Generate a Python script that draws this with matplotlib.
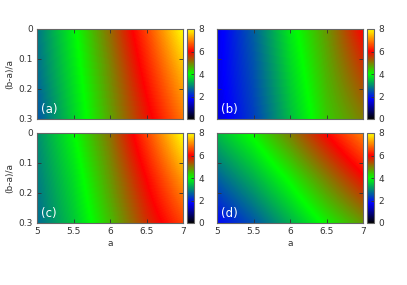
import numpy as np
import matplotlib
matplotlib.use("Agg")
import matplotlib.pyplot as plt
from matplotlib.colors import LinearSegmentedColormap

# rejilla de valores
a_vals = [5.0, 5.5, 6.0, 6.5, 7.0]
r_vals = [0.0, 0.15, 0.3]

campo_a = [[2.8, 3.9, 5.15, 6.5, 8.0],
           [2.7, 3.75, 4.9, 6.15, 7.4],
           [2.5, 3.6, 4.7, 5.8, 6.9]]
campo_b = [[1.6, 2.6, 3.8, 4.8, 6.0],
           [1.6, 2.45, 3.6, 4.6, 5.5],
           [1.5, 2.3, 3.4, 4.4, 5.0]]
campo_c = [[3.0, 3.95, 5.1, 6.5, 8.0],
           [2.85, 3.7, 4.8, 6.0, 7.2],
           [2.7, 3.5, 4.5, 5.6, 6.5]]
campo_d = [[3.4, 4.1, 5.0, 6.0, 7.0],
           [2.6, 3.3, 4.1, 5.0, 5.9],
           [1.8, 2.5, 3.3, 4.1, 4.8]]

etiquetas = ["(a)", "(b)", "(c)", "(d)"]
campos = [campo_a, campo_b, campo_c, campo_d]

cmap = LinearSegmentedColormap.from_list(
    "pal", [(0, "black"), (0.22, "blue"), (0.5, "#00ff00"), (0.75, "red"), (1, "yellow")])

plt.rcParams['font.family'] = ['DejaVu Sans']
plt.rcParams['font.size'] = 6.5

fig = plt.figure(figsize=(4.07, 2.85), dpi=100)
W, H = 407.0, 285.0
# posiciones en pixeles: (izq, arriba)
pos = [(37, 29), (217, 29), (37, 133), (217, 133)]
ancho, alto = 146, 90

# los centros de los pixeles de imshow caen sobre los nodos de la rejilla
da = (a_vals[1] - a_vals[0]) / 2
dr = (r_vals[1] - r_vals[0]) / 2
ext = [a_vals[0] - da, a_vals[-1] + da, r_vals[-1] + dr, r_vals[0] - dr]

for i, (x0, y0) in enumerate(pos):
    ax = fig.add_axes([x0 / W, (H - y0 - alto) / H, ancho / W, alto / H])
    ax.imshow(np.array(campos[i]), cmap=cmap, vmin=0, vmax=8, extent=ext, origin='upper',
              aspect='auto', interpolation='bilinear', interpolation_stage='data')
    ax.set_xlim(5, 7)
    ax.set_ylim(0.3, 0)
    ax.set_xticks([5, 5.5, 6, 6.5, 7])
    ax.set_yticks([0, 0.1, 0.2, 0.3])
    ax.tick_params(direction='in', top=True, right=True, length=3, width=0.6, pad=3, colors='#333333')
    for s in ax.spines.values():
        s.set_color('#666666')
        s.set_linewidth(0.8)
    if i < 2:
        ax.set_xticklabels([])
    else:
        ax.set_xticklabels(["5", "5.5", "6", "6.5", "7"])
        ax.set_xlabel("a", labelpad=2, color='#333333')
    if i % 2 == 1:
        ax.set_yticklabels([])
    else:
        ax.set_yticklabels(["0", "0.1", "0.2", "0.3"])
        ax.set_ylabel("(b-a)/a", labelpad=3, color='#333333')
    ax.text(0.03, 0.07, etiquetas[i], transform=ax.transAxes, color='white', fontsize=8.5)

    # barra de color
    cax = fig.add_axes([(x0 + ancho + 4) / W, (H - y0 - alto) / H, 7 / W, alto / H])
    cb = fig.colorbar(plt.cm.ScalarMappable(norm=plt.Normalize(0, 8), cmap=cmap), cax=cax)
    cb.set_ticks([0, 2, 4, 6, 8])
    cb.ax.tick_params(direction='in', length=2, width=0.6, pad=3, colors='#333333')
    cb.outline.set_edgecolor('#666666')
    cb.outline.set_linewidth(0.8)

plt.savefig("out.png", dpi=100)
